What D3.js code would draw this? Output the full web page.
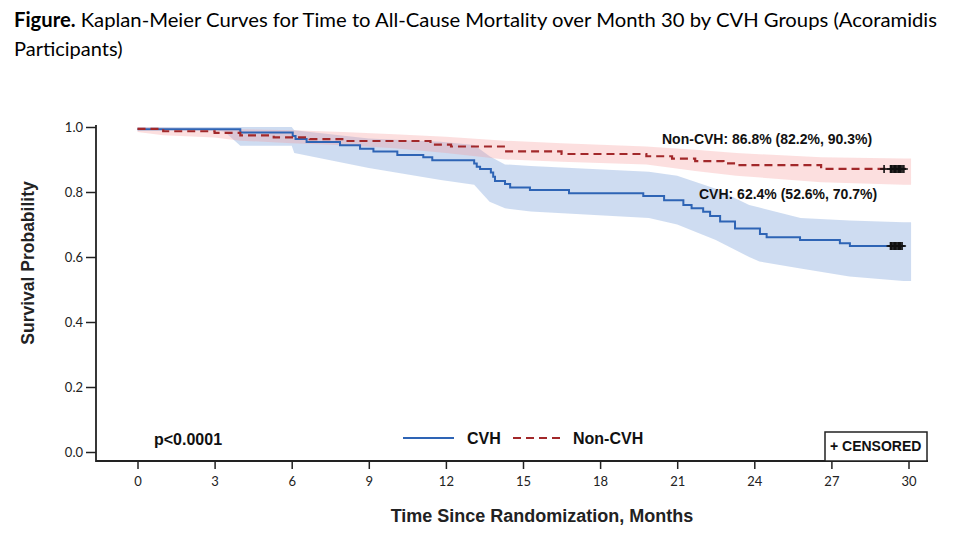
<!DOCTYPE html>
<html>
<head>
<meta charset="utf-8">
<script src="https://cdn.jsdelivr.net/npm/d3@7"></script>
<style>
  body { margin: 0; background: #fff; }
  svg { display: block; }
</style>
</head>
<body>
<div class="d3"></div>
<script>
// CVH curve (months, survival)
const cvhTime = [0, 4.0, 6.04, 6.15, 6.58, 7.88, 8.66, 9.18, 10.11, 11.12, 11.47, 13.1, 13.2, 13.33, 13.75, 13.84, 13.91, 14.3, 14.5, 15.27, 16.79, 19.68, 20.49, 21.24, 21.56, 22.01, 22.28, 22.67, 23.25, 24.22, 24.48, 25.78, 27.33, 27.72, 29.85];
const cvhSurv = [0.993, 0.983, 0.972, 0.963, 0.954, 0.944, 0.933, 0.925, 0.914, 0.907, 0.898, 0.888, 0.878, 0.871, 0.860, 0.847, 0.834, 0.825, 0.814, 0.806, 0.796, 0.788, 0.775, 0.760, 0.750, 0.739, 0.726, 0.709, 0.688, 0.671, 0.661, 0.652, 0.642, 0.634, 0.634];

// Non-CVH curve
const nonTime = [0, 1.0, 3.0, 4.0, 5.3, 6.7, 8.1, 11.4, 12.2, 14.3, 16.5, 19.8, 20.8, 21.7, 22.8, 23.3, 26.6, 29.85];
const nonSurv = [0.994, 0.987, 0.982, 0.974, 0.968, 0.963, 0.957, 0.946, 0.940, 0.925, 0.917, 0.910, 0.903, 0.895, 0.888, 0.883, 0.871, 0.868];

// confidence bands
const cvhBandTime = [0, 3.1, 3.4, 4.0, 6.0, 6.1, 9.0, 11.8, 13.1, 13.7, 14.3, 15.3, 19.9, 21.0, 22.5, 23.8, 24.2, 25.8, 27.7, 29.8, 30.1];
const cvhLower = [0.992, 0.99, 0.985, 0.942, 0.942, 0.92, 0.874, 0.837, 0.822, 0.77, 0.75, 0.74, 0.72, 0.70, 0.652, 0.60, 0.586, 0.565, 0.54, 0.526, 0.526];
const cvhUpper = [1.0, 1.0, 1.0, 1.0, 1.0, 0.99, 0.965, 0.955, 0.945, 0.91, 0.885, 0.88, 0.862, 0.85, 0.81, 0.76, 0.752, 0.72, 0.712, 0.707, 0.707];

const nonBandTime = [0, 1, 3, 4, 6, 8, 10, 12, 14.3, 16.5, 19.8, 21.7, 23.3, 26.6, 29.8, 30.1];
const nonLower = [0.985, 0.975, 0.968, 0.958, 0.95, 0.944, 0.935, 0.92, 0.90, 0.893, 0.885, 0.865, 0.85, 0.83, 0.822, 0.822];
const nonUpper = [1.0, 0.998, 0.995, 0.993, 0.99, 0.985, 0.978, 0.97, 0.958, 0.95, 0.94, 0.93, 0.92, 0.907, 0.903, 0.903];

// censored observations
const cvhCensor = [29.3, 29.35, 29.4, 29.45, 29.5, 29.55, 29.6, 29.65, 29.7, 29.75];
const nonCensor = [29.05, 29.3, 29.35, 29.4, 29.45, 29.5, 29.55, 29.6, 29.65, 29.7, 29.75, 29.82];

const xTicks = [0, 3, 6, 9, 12, 15, 18, 21, 24, 27, 30];
const yTicks = [0, 0.2, 0.4, 0.6, 0.8, 1.0];

const titleBold = 'Figure.';
const titleRest = ' Kaplan-Meier Curves for Time to All-Cause Mortality over Month 30 by CVH Groups (Acoramidis';
const titleLine2 = 'Participants)';

let width = 969;
let height = 541;

let svg = d3.select('.d3')
  .append('svg')
  .attr('width', width)
  .attr('height', height);

let x = d3.scaleLinear().domain([0, 30]).range([137.5, 908.5]);
let y = d3.scaleLinear().domain([0, 1]).range([452, 127]);

// title
let title = svg.append('text')
  .attr('x', 14)
  .attr('y', 27)
  .attr('font-family', 'Lato, sans-serif')
  .attr('font-size', 20)
  .attr('fill', '#000')
  .attr('textLength', 923)
  .attr('lengthAdjust', 'spacingAndGlyphs');
title.append('tspan').attr('font-weight', 'bold').text(titleBold);
title.append('tspan').text(titleRest);

svg.append('text')
  .attr('x', 14)
  .attr('y', 56)
  .attr('font-family', 'Lato, sans-serif')
  .attr('font-size', 20)
  .attr('fill', '#000')
  .text(titleLine2);

// bands
let bandArea = (times, lo, hi) => d3.area()
  .x((d, i) => x(times[i]))
  .y0((d, i) => y(lo[i]))
  .y1((d, i) => y(hi[i]));

svg.append('path')
  .attr('d', bandArea(cvhBandTime, cvhLower, cvhUpper)(cvhBandTime))
  .attr('fill', 'rgb(94,140,210)')
  .attr('fill-opacity', 0.3);

svg.append('path')
  .attr('d', bandArea(nonBandTime, nonLower, nonUpper)(nonBandTime))
  .attr('fill', 'rgb(245,150,150)')
  .attr('fill-opacity', 0.3);

// curves
let stepLine = (times, surv) => d3.line()
  .curve(d3.curveStepAfter)
  .x((d, i) => x(times[i]))
  .y((d, i) => y(surv[i]));

svg.append('path')
  .attr('d', stepLine(cvhTime, cvhSurv)(cvhTime))
  .attr('fill', 'none')
  .attr('stroke', '#2e64b5')
  .attr('stroke-width', 2);

svg.append('path')
  .attr('d', stepLine(nonTime, nonSurv)(nonTime))
  .attr('fill', 'none')
  .attr('stroke', '#a2282a')
  .attr('stroke-width', 2.2)
  .attr('stroke-dasharray', '8,5');

// censor marks
let survAt = (times, surv, t) => surv[d3.bisectRight(times, t) - 1];
let plus = 'M-4,0H4M0,-4V4';

svg.append('g')
  .selectAll('path')
  .data(cvhCensor)
  .enter()
  .append('path')
  .attr('d', plus)
  .attr('transform', d => `translate(${x(d)},${y(survAt(cvhTime, cvhSurv, d))})`)
  .attr('stroke', '#111')
  .attr('stroke-width', 1.6);

svg.append('g')
  .selectAll('path')
  .data(nonCensor)
  .enter()
  .append('path')
  .attr('d', plus)
  .attr('transform', d => `translate(${x(d)},${y(survAt(nonTime, nonSurv, d))})`)
  .attr('stroke', '#111')
  .attr('stroke-width', 1.6);

// axes
let yAxis = svg.append('g')
  .attr('transform', 'translate(96,0)')
  .call(d3.axisLeft(y).tickValues(yTicks).tickFormat(d3.format('.1f')).tickSize(10).tickSizeOuter(0));
yAxis.select('.domain').remove();
yAxis.selectAll('line').attr('stroke', '#222').attr('stroke-width', 1.5);
yAxis.selectAll('text')
  .attr('font-family', 'Lato, sans-serif')
  .attr('font-size', 13)
  .attr('fill', '#222')
  .attr('x', -13);

let xAxis = svg.append('g')
  .attr('transform', 'translate(0,461)')
  .call(d3.axisBottom(x).tickValues(xTicks).tickSize(8).tickSizeOuter(0));
xAxis.select('.domain').remove();
xAxis.selectAll('line').attr('stroke', '#222').attr('stroke-width', 1.5);
xAxis.selectAll('text')
  .attr('font-family', 'Lato, sans-serif')
  .attr('font-size', 13)
  .attr('fill', '#222')
  .attr('y', 16);

svg.append('path')
  .attr('d', 'M96,125V461H928')
  .attr('fill', 'none')
  .attr('stroke', '#222')
  .attr('stroke-width', 1.8);

// axis titles
svg.append('text')
  .attr('transform', 'translate(34,263) rotate(-90)')
  .attr('text-anchor', 'middle')
  .attr('font-family', 'Liberation Sans, Arial, sans-serif')
  .attr('font-weight', 'bold')
  .attr('font-size', 17.5)
  .attr('fill', '#222')
  .text('Survival Probability');

svg.append('text')
  .attr('x', 542)
  .attr('y', 522)
  .attr('text-anchor', 'middle')
  .attr('font-family', 'Liberation Sans, Arial, sans-serif')
  .attr('font-weight', 'bold')
  .attr('font-size', 18)
  .attr('fill', '#222')
  .text('Time Since Randomization, Months');

// annotations
let bold = (sel, px) => sel
  .attr('font-family', 'Liberation Sans, Arial, sans-serif')
  .attr('font-weight', 'bold')
  .attr('font-size', px)
  .attr('fill', '#111');

bold(svg.append('text').attr('x', 662).attr('y', 144).text('Non-CVH: 86.8% (82.2%, 90.3%)'), 14);
bold(svg.append('text').attr('x', 699).attr('y', 199).text('CVH: 62.4% (52.6%, 70.7%)'), 14);
bold(svg.append('text').attr('x', 154).attr('y', 445).text('p<0.0001'), 16);

// legend
svg.append('line')
  .attr('x1', 403).attr('x2', 454).attr('y1', 438).attr('y2', 438)
  .attr('stroke', '#2e64b5').attr('stroke-width', 2);
bold(svg.append('text').attr('x', 467).attr('y', 444).text('CVH'), 16);
svg.append('line')
  .attr('x1', 513).attr('x2', 561).attr('y1', 438).attr('y2', 438)
  .attr('stroke', '#a2282a').attr('stroke-width', 2.2).attr('stroke-dasharray', '8,5');
bold(svg.append('text').attr('x', 573).attr('y', 444).text('Non-CVH'), 16);

svg.append('rect')
  .attr('x', 825).attr('y', 432).attr('width', 102).attr('height', 29)
  .attr('fill', '#fff').attr('stroke', '#222').attr('stroke-width', 1.5);
bold(svg.append('text').attr('x', 830).attr('y', 451).text('+ CENSORED'), 14);
</script>
</body>
</html>
